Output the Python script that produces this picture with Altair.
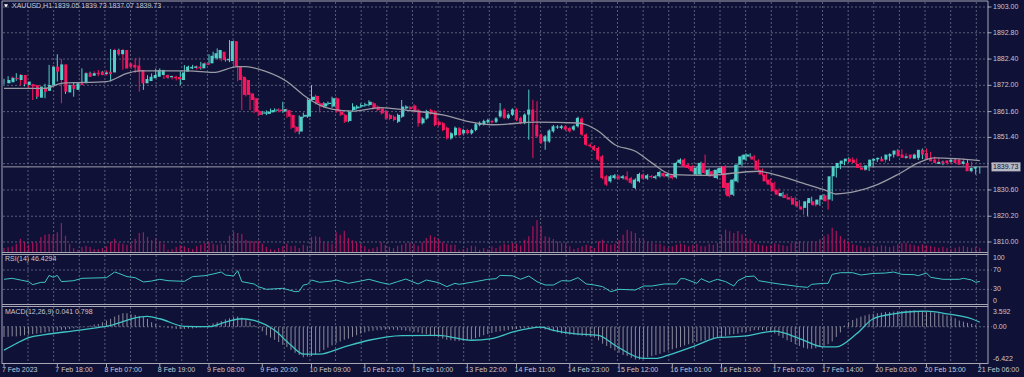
import altair as alt
import pandas as pd
import numpy as np

# ---------------- data ----------------
open_ = [1872.8,1873.2,1875.0,1874.1,1876.1,1872.1,1872.4,1872.1,1867.1,1870.8,
 1869.8,1872.1,1879.4,1874.1,1880.3,1869.2,1872.1,1870.2,1872.8,1872.8,
 1876.8,1875.8,1877.0,1877.4,1876.5,1877.4,1877.1,1886.0,1884.3,1886.0,
 1880.7,1880.1,1879.8,1878.1,1872.8,1873.7,1874.8,1875.4,1876.1,1876.1,
 1875.2,1875.4,1875.3,1874.1,1877.4,1878.7,1878.9,1879.4,1878.7,1880.7,
 1880.7,1882.7,1882.7,1885.3,1881.9,1881.6,1889.5,1879.4,1875.4,1874.1,
 1868.8,1866.9,1861.8,1860.8,1860.7,1861.3,1862.0,1862.4,1861.6,1862.2,
 1860.3,1855.6,1853.7,1859.6,1859.6,1866.2,1867.8,1864.9,1863.6,1864.6,
 1863.6,1866.9,1861.6,1860.3,1857.9,1862.2,1862.9,1863.6,1864.0,1864.2,
 1864.9,1863.6,1862.9,1861.8,1860.3,1859.6,1857.6,1859.6,1862.9,1863.4,
 1864.0,1862.2,1857.0,1858.9,1862.2,1861.6,1857.6,1857.0,1855.2,1851.0,
 1852.3,1855.0,1853.0,1854.3,1853.0,1854.3,1856.3,1856.6,1857.4,1857.9,
 1857.6,1859.7,1862.4,1859.1,1860.4,1862.4,1859.1,1857.1,1860.4,1862.4,
 1856.4,1852.5,1849.8,1849.8,1853.8,1855.3,1855.1,1855.8,1855.1,1854.5,
 1855.8,1858.8,1852.5,1848.5,1847.9,1847.2,1843.9,1836.0,1834.0,1835.3,
 1836.0,1835.3,1836.0,1835.3,1831.4,1834.0,1836.7,1835.1,1836.1,1835.3,
 1836.0,1837.3,1836.0,1836.4,1835.6,1841.3,1842.6,1840.6,1840.0,1836.7,
 1836.7,1841.3,1836.4,1838.0,1835.3,1837.3,1840.0,1833.4,1828.7,1834.0,
 1840.6,1842.6,1843.8,1843.9,1842.2,1838.6,1836.7,1834.7,1833.4,1830.7,
 1828.1,1828.7,1827.7,1827.4,1826.1,1824.1,1823.5,1825.4,1826.1,1824.8,
 1826.8,1828.5,1826.8,1836.0,1839.3,1840.9,1841.9,1843.0,1842.6,1840.9,
 1839.3,1838.6,1840.0,1842.2,1842.7,1842.9,1842.6,1843.9,1844.6,1846.2,
 1844.6,1843.3,1844.6,1843.0,1843.3,1846.5,1845.2,1843.3,1842.6,1840.9,
 1841.9,1842.2,1841.7,1842.6,1842.6,1840.9,1841.3,1838.0,1839.05]

high = [1874.6,1875.6,1875.5,1876.8,1876.5,1874.2,1873.0,1872.6,1872.0,1871.4,
 1872.6,1880.1,1880.0,1884.3,1882.4,1872.8,1872.6,1873.3,1873.3,1878.7,
 1877.3,1877.4,1877.6,1878.1,1877.7,1877.9,1886.4,1886.5,1886.5,1886.4,
 1881.3,1880.6,1882.7,1883.0,1875.0,1876.0,1876.7,1878.6,1878.7,1876.6,
 1876.2,1875.9,1875.8,1877.6,1880.0,1879.8,1880.1,1879.9,1881.3,1881.2,
 1884.3,1885.3,1886.6,1885.8,1883.0,1889.9,1890.0,1879.9,1876.0,1874.6,
 1869.3,1867.4,1862.4,1861.9,1862.1,1862.8,1862.9,1862.9,1865.5,1862.8,
 1860.8,1856.1,1860.1,1861.2,1866.8,1872.1,1868.3,1865.4,1865.4,1865.6,
 1867.5,1867.4,1862.1,1860.8,1862.1,1864.9,1864.2,1864.8,1865.1,1866.1,
 1865.4,1864.1,1863.4,1862.3,1860.8,1860.1,1860.8,1866.2,1864.1,1863.9,
 1864.5,1862.7,1859.4,1862.3,1862.7,1862.1,1858.1,1857.5,1855.7,1853.5,
 1855.7,1855.5,1854.8,1854.8,1854.8,1857.1,1857.7,1858.4,1858.8,1858.4,
 1859.4,1865.0,1862.9,1860.9,1862.9,1862.9,1859.6,1860.9,1870.3,1866.3,
 1865.7,1853.0,1852.3,1854.6,1856.3,1856.2,1856.3,1856.3,1855.6,1856.3,
 1859.6,1859.3,1853.0,1849.0,1848.4,1847.7,1844.4,1836.5,1836.5,1836.9,
 1836.5,1836.5,1838.0,1835.8,1835.2,1837.4,1837.2,1836.9,1836.6,1836.5,
 1838.2,1837.8,1837.4,1836.9,1841.8,1843.1,1843.1,1841.1,1840.5,1839.8,
 1841.8,1844.6,1839.1,1838.5,1839.1,1839.8,1840.5,1833.9,1835.2,1841.1,
 1844.4,1845.1,1845.1,1844.4,1842.7,1839.1,1837.2,1835.2,1833.9,1831.2,
 1829.9,1829.2,1828.2,1827.9,1826.6,1824.6,1826.6,1827.9,1826.6,1827.3,
 1829.0,1829.0,1836.5,1840.5,1841.8,1842.7,1843.5,1843.5,1843.1,1841.4,
 1839.8,1840.8,1843.1,1843.4,1843.8,1843.4,1845.1,1845.3,1846.7,1846.7,
 1845.1,1844.4,1845.1,1845.1,1847.0,1847.0,1845.7,1843.8,1843.1,1842.2,
 1842.4,1842.7,1843.1,1843.1,1843.1,1842.4,1841.8,1839.8,1839.73]

low = [1872.3,1872.9,1873.9,1873.8,1871.9,1871.6,1870.9,1866.2,1866.6,1869.0,
 1866.9,1871.5,1876.9,1873.5,1864.9,1868.6,1870.0,1867.5,1871.6,1872.3,
 1874.9,1875.3,1875.9,1875.6,1876.0,1875.9,1873.5,1883.8,1883.8,1878.2,
 1878.8,1878.5,1876.9,1869.5,1870.2,1873.2,1874.3,1875.0,1875.6,1874.5,
 1874.7,1874.3,1873.9,1872.1,1876.9,1878.2,1878.4,1878.2,1878.2,1879.6,
 1880.2,1882.2,1882.2,1881.5,1881.4,1881.2,1879.0,1873.6,1862.2,1867.6,
 1862.2,1861.0,1859.8,1860.3,1860.2,1860.8,1861.5,1861.3,1861.1,1859.1,
 1854.7,1853.2,1852.6,1859.1,1859.1,1865.7,1864.4,1861.3,1863.1,1864.1,
 1863.1,1861.1,1859.8,1857.1,1857.4,1861.7,1862.4,1863.1,1863.5,1863.7,
 1862.4,1861.7,1860.4,1858.4,1858.2,1857.8,1857.1,1859.1,1862.4,1862.1,
 1861.1,1855.6,1856.5,1858.4,1860.4,1855.8,1855.8,1853.8,1850.5,1850.5,
 1851.8,1851.8,1852.5,1852.5,1852.5,1853.8,1855.8,1856.1,1856.9,1856.9,
 1857.1,1859.2,1858.6,1858.6,1859.9,1857.9,1856.6,1856.6,1850.5,1843.3,
 1851.3,1848.7,1846.5,1849.3,1853.3,1854.8,1854.6,1854.0,1853.3,1854.0,
 1855.3,1852.0,1848.0,1847.4,1846.0,1842.1,1834.8,1832.2,1833.5,1834.8,
 1834.6,1834.8,1834.2,1832.9,1830.9,1833.5,1834.6,1834.6,1835.1,1834.8,
 1835.5,1835.5,1835.5,1834.8,1835.1,1840.8,1839.5,1838.8,1837.5,1836.2,
 1836.2,1836.8,1835.9,1835.5,1834.8,1836.8,1828.7,1827.6,1828.2,1833.5,
 1840.1,1842.1,1843.3,1842.1,1838.1,1836.2,1833.5,1832.2,1829.6,1828.2,
 1827.6,1826.9,1826.3,1824.3,1823.6,1820.8,1820.2,1824.9,1824.0,1824.3,
 1826.3,1822.8,1826.3,1835.5,1838.8,1840.4,1841.4,1841.2,1840.8,1838.8,
 1838.1,1838.1,1839.5,1841.7,1842.2,1841.4,1842.1,1843.4,1844.1,1843.4,
 1842.8,1842.8,1842.8,1842.5,1842.8,1844.1,1842.1,1841.4,1840.8,1840.4,
 1840.6,1840.8,1841.2,1840.8,1840.1,1840.4,1837.5,1836.7,1837.07]

close = [1874.1,1875.0,1874.4,1876.1,1872.4,1873.5,1871.5,1867.5,1871.5,1869.5,
 1872.1,1879.4,1877.4,1880.3,1869.5,1872.1,1870.6,1872.8,1872.1,1876.8,
 1875.4,1876.8,1876.4,1876.1,1877.1,1876.4,1886.0,1884.3,1886.0,1878.7,
 1879.4,1879.0,1877.4,1872.8,1874.5,1875.4,1876.1,1878.1,1878.1,1875.0,
 1875.7,1874.8,1874.4,1877.1,1879.4,1879.3,1879.5,1878.7,1880.7,1880.1,
 1883.7,1884.7,1886.0,1882.0,1882.4,1889.5,1879.4,1874.1,1868.2,1868.2,
 1866.2,1861.6,1860.3,1861.3,1861.6,1862.2,1862.4,1861.8,1862.6,1859.6,
 1855.2,1853.7,1859.6,1860.3,1866.2,1867.5,1864.9,1863.6,1864.9,1865.1,
 1866.9,1861.6,1860.3,1857.6,1861.6,1863.6,1863.6,1864.2,1864.5,1865.5,
 1862.9,1862.2,1860.9,1858.9,1858.7,1858.3,1860.3,1863.6,1863.6,1862.6,
 1861.6,1857.0,1858.9,1861.8,1860.9,1856.3,1856.3,1854.3,1851.0,1853.0,
 1855.2,1852.3,1854.3,1853.0,1854.3,1856.6,1857.2,1857.9,1858.3,1857.4,
 1858.9,1862.0,1859.1,1860.4,1862.4,1858.4,1857.1,1860.4,1862.4,1857.8,
 1851.8,1849.2,1851.8,1854.1,1855.8,1855.7,1855.8,1854.5,1853.8,1855.8,
 1859.1,1852.5,1848.5,1847.9,1846.5,1842.6,1835.3,1832.7,1836.0,1836.4,
 1835.1,1836.0,1834.7,1833.4,1834.7,1836.9,1835.1,1836.4,1835.6,1836.0,
 1837.7,1836.0,1836.9,1835.3,1841.3,1842.6,1840.0,1839.3,1838.0,1839.3,
 1841.3,1837.3,1838.6,1836.0,1838.6,1839.3,1831.4,1828.1,1834.7,1840.6,
 1843.9,1844.6,1844.6,1842.6,1838.6,1836.7,1834.0,1832.7,1830.1,1828.7,
 1829.4,1827.4,1826.8,1824.8,1824.1,1822.8,1826.1,1827.4,1824.5,1826.8,
 1828.5,1826.1,1836.0,1840.0,1841.3,1842.2,1843.0,1841.7,1841.3,1839.3,
 1838.6,1840.3,1842.6,1842.9,1843.3,1841.9,1844.6,1844.8,1846.2,1843.9,
 1843.3,1843.9,1843.3,1844.6,1846.5,1844.6,1842.6,1841.9,1841.3,1841.7,
 1841.1,1841.3,1842.6,1841.3,1840.6,1841.9,1838.0,1839.3,1839.73]

volume = [1200,1400,1700,2500,4000,3000,2200,3000,2700,4500,5200,5400,5000,5900,8700,
 4900,2500,1200,700,1500,1900,1500,900,900,1200,1700,3000,4000,2700,2500,
 2200,2500,4000,5700,5900,4500,3500,4200,3000,2500,700,900,1500,2000,1700,
 1200,900,1700,2200,2700,3000,2500,2200,2500,2200,4900,6000,5700,
 5400,3700,3400,3200,3400,2500,1500,900,700,1200,1700,2500,1700,1900,1200,
 2200,1900,4500,4700,4500,2900,2700,2500,5900,5200,6400,4200,3500,2900,2500,
 1700,900,1200,1500,2900,2200,1500,1200,1900,2200,2700,2900,2500,1900,2900,
 4200,5000,4500,3900,2900,2500,2200,2200,700,900,1200,1900,1700,700,1200,
 900,1700,1200,
 1900,2500,2200,2700,2500,1900,3700,4700,7700,9500,7900,4700,4400,3900,3200,
 2700,2500,1700,900,1200,1700,2200,1900,1200,3200,3700,2500,2200,2500,3500,
 5200,6700,6200,5700,4200,3700,2900,2700,2500,2500,1900,1200,1700,2200,2500,
 2200,1700,2200,2500,1900,1700,2500,2200,2700,5200,6700,6200,5700,
 6300,5300,4300,3800,2800,2300,2000,1800,2000,2600,2300,2000,1800,2600,3000,
 3300,3000,2800,3300,3000,3800,4800,5300,7300,6300,4800,3800,3000,2300,2000,
 1800,1300,1600,2000,1600,2000,1800,1500,1800,2300,2600,2800,2300,2000,1800,
 2300,2000,1800,1500,1300,1600,1300,1000,1300,1600,1800,1500,1300,1600,1300]

macd_hist = [-1.8,-1.8,-1.7,-1.7,-1.6,-1.5,-1.4,-1.3,-1.2,-1.1,-1.0,
 -0.9,-0.8,-0.7,-0.6,-0.5,-0.4,-0.3,-0.2,-0.1,0.0,
 0.2,0.4,0.5,0.8,1.1,1.4,1.8,2.1,2.4,2.4,
 2.2,2.1,1.9,1.7,1.4,0.8,0.5,0.2,0.0,-0.2,
 -0.3,-0.4,-0.4,-0.4,-0.3,-0.3,-0.2,-0.1,0.0,0.3,
 0.6,0.8,1.0,1.3,1.5,1.7,1.8,1.6,1.2,0.9,
 0.3,-0.2,-0.8,-1.5,-1.9,-2.3,-2.7,-3.2,-3.6,-4.1,
 -4.6,-5.0,-5.4,-5.3,-5.2,-4.9,-4.5,-4.1,-3.7,-3.3,
 -2.9,-2.6,-2.3,-2.1,-1.8,-1.5,-1.2,-1.0,-0.8,-0.7,
 -0.6,-0.6,-0.5,-0.5,-0.5,-0.6,-0.6,-0.7,-0.8,-0.9,
 -1.0,-1.2,-1.3,-1.5,-1.7,-1.9,-2.1,-2.3,-2.4,-2.5,
 -2.5,-2.5,-2.4,-2.2,-2.0,-1.8,-1.5,-1.3,-1.1,-0.9,
 -0.8,-0.7,-0.6,-0.5,-0.4,-0.3,-0.2,-0.2,-0.2,-0.2,
 -0.3,-0.5,-0.6,-0.8,-1.0,-1.2,-1.3,-1.4,-1.4,-1.5,
 -1.6,-1.7,-1.8,-1.9,-2.4,-3.0,-3.4,-3.8,-4.2,-4.6,
 -5.0,-5.2,-5.5,-5.8,-5.8,-5.6,-5.4,-5.2,-5.0,-4.8,
 -4.5,-4.2,-4.0,-3.8,-3.6,-3.3,-3.1,-2.9,-2.7,-2.5,
 -2.4,-2.2,-2.0,-1.9,-1.8,-1.6,-1.4,-1.3,-1.2,-1.0,
 -0.9,-0.8,-0.6,-0.6,-0.6,-0.7,-0.9,-1.2,-1.6,-2.0,
 -2.4,-2.7,-3.1,-3.4,-3.7,-3.9,-3.9,-3.8,-3.6,-3.4,
 -3.1,-2.6,-1.8,-1.0,0.2,0.8,1.2,1.5,1.8,2.0,
 2.2,2.3,2.4,2.5,2.6,2.6,2.7,2.8,2.8,2.9,
 2.9,2.9,2.8,2.8,2.7,2.6,2.5,2.4,2.2,2.0,
 1.8,1.5,1.1,0.9,0.7,0.5,0.3,0.04]

ma_bar = [0, 10, 14, 25, 30, 33, 45, 51, 57, 59, 64, 69, 73, 77, 80, 85, 92, 98, 107, 114,
          119, 130, 140, 142, 145, 149, 154, 158, 163, 171, 184, 188, 196, 200, 203, 208,
          213, 218, 223, 227, 232, 238]
ma_val = [1870.8, 1870.8, 1872.8, 1873.5, 1876.7, 1877.7, 1877.7, 1877.1, 1879.4, 1879.4,
          1877.4, 1873.5, 1868.2, 1864.2, 1862.6, 1861.8, 1863.2, 1862.2, 1860.3, 1857.4,
          1856.4, 1857.4, 1857.1, 1856.4, 1853.8, 1848.5, 1845.9, 1841.3, 1836.7, 1836.4,
          1838.0, 1836.7, 1832.7, 1830.7, 1829.0, 1830.1, 1832.7, 1836.7, 1841.3, 1843.3,
          1843.0, 1842.2]

rsi_bar = [0, 2, 4, 6, 7, 9, 10, 11, 12, 13, 14, 17, 19, 25, 27, 28, 30, 32, 34, 36, 38, 40,
           44, 46, 49, 51, 53, 54, 56, 57, 58, 61, 62, 64, 68, 71, 72, 73, 74, 75, 77, 80, 81,
           84, 87, 89, 92, 94, 96, 98, 101, 103, 106, 108, 110, 111, 115, 118, 120, 121, 124,
           126, 128, 130, 132, 134, 136, 138, 140, 142, 144, 146, 148, 150, 154, 156, 158,
           161, 164, 165, 166, 169, 170, 172, 173, 174, 176, 178, 179, 181, 183, 184, 187,
           189, 191, 194, 196, 197, 200, 201, 202, 204, 207, 209, 212, 215, 217, 219, 222,
           223, 225, 226, 229, 233, 234, 236, 237, 238]
rsi_val = [50.8, 52.8, 49.4, 46.0, 39.8, 44.6, 44.6, 58.9, 54.9, 58.9, 46.0, 48.0, 52.8, 54.2,
           65.8, 62.9, 56.3, 54.2, 45.3, 47.3, 50.8, 48.0, 46.6, 56.3, 58.3, 61.7, 65.8, 59.7,
           57.6, 68.6, 46.0, 41.2, 35.7, 30.2, 32.3, 25.4, 26.1, 39.1, 40.5, 49.4, 44.6, 47.3,
           49.4, 42.5, 47.3, 50.8, 43.9, 40.5, 46.0, 51.4, 41.2, 49.4, 43.9, 35.7, 42.5, 40.5,
           46.0, 50.8, 52.1, 58.9, 58.0, 50.8, 57.6, 46.0, 39.1, 39.1, 48.0, 47.3, 54.2, 41.2,
           39.1, 35.7, 25.4, 30.2, 28.8, 37.0, 37.0, 41.2, 41.2, 52.1, 52.1, 42.5, 52.1, 44.6,
           48.0, 50.8, 46.0, 37.0, 48.0, 56.3, 57.6, 48.0, 43.9, 41.2, 39.1, 35.7, 34.3, 40.5,
           42.5, 42.5, 61.0, 64.4, 64.4, 59.7, 62.9, 63.7, 65.8, 61.0, 60.3, 58.3, 63.7, 54.9,
           50.8, 50.8, 52.8, 49.4, 44.6, 46.4]

signal_bar = [0, 3, 6, 10, 18, 26, 33, 35, 38, 44, 50, 54, 58, 61, 66, 70, 73, 77, 83, 89, 97,
              106, 114, 119, 124, 131, 134, 139, 145, 149, 156, 159, 162, 169, 174, 181, 188,
              194, 200, 203, 208, 212, 217, 222, 225, 230, 236, 238]
signal_val = [-4.15, -2.97, -1.92, -1.39, -0.63, 0.25, 1.71, 1.83, 1.42, 0.07, 0.02, 0.83, 1.42,
              1.12, -0.63, -3.27, -4.85, -4.85, -3.57, -2.39, -1.57, -1.51, -2.39, -2.09, -0.95,
              -0.05, -0.63, -1.21, -1.51, -3.27, -5.61, -5.61, -5.03, -3.27, -1.92, -1.63, -0.76,
              -2.09, -3.57, -3.57, -1.21, 1.42, 2.30, 2.71, 2.76, 2.30, 1.42, 0.80]

price_ticks = [1903.00, 1892.80, 1882.40, 1872.00, 1861.60, 1851.40, 1841.00, 1830.60, 1820.20, 1810.00]
rsi_levels = [70, 30]
rsi_ticks = ["100", "70", "30", "0"]
macd_ticks = ["3.592", "0.00", "-6.422"]
time_labels = ["7 Feb 2023", "7 Feb 18:00", "8 Feb 07:00", "8 Feb 19:00", "9 Feb 08:00",
               "9 Feb 20:00", "10 Feb 09:00", "10 Feb 21:00", "13 Feb 10:00", "13 Feb 22:00",
               "14 Feb 11:00", "14 Feb 23:00", "15 Feb 12:00", "16 Feb 01:00", "16 Feb 13:00",
               "17 Feb 02:00", "17 Feb 14:00", "20 Feb 03:00", "20 Feb 15:00", "21 Feb 06:00"]
label_bar = [0, 13, 25, 38, 50, 63, 75, 88, 100, 113, 125, 138, 150, 163, 175, 188, 200, 213, 225, 238]
header = "XAUUSD,H1  1839.05 1839.73 1837.07 1839.73"
rsi_title = "RSI(14) 46.4294"
macd_title = "MACD(12,26,9) 0.041 0.798"
last_price = 1839.73

N = len(close)
assert all(len(a) == N for a in [open_, high, low, volume, macd_hist]), [len(a) for a in [open_, high, low, close, volume, macd_hist]]
assert len(ma_bar) == len(ma_val) and len(rsi_bar) == len(rsi_val) and len(signal_bar) == len(signal_val)

cd = pd.DataFrame({"bar": range(N), "open": open_, "high": high, "low": low, "close": close,
                   "volume": volume, "hist": macd_hist})
cd["dir"] = np.where(cd["close"] >= cd["open"], "up", "down")

# ---------------- style ----------------
BG = "#0f1136"
UP = "#52d1c9"
DOWN = "#f6175f"
VOL = "#a8145c"
GRID = "#5b5e7a"
FRAME = "#a6a6b4"
TEXT = "#c8c8d2"
CYAN = "#3fc4c6"
FONT = "Liberation Sans"
FS = 7

xs = alt.Scale(domain=[-4 / 4.1, 1020 / 4.1], range=[0, 1024], nice=False, zero=False)
py = alt.Scale(domain=[1806.04, 1904.98], range=[252, 2], nice=False, zero=False)
vs = alt.Scale(domain=[0, 30000], range=[252, 152], nice=False, zero=False)
rs = alt.Scale(domain=[0, 100], range=[304, 255.4], nice=False, zero=False)
ms = alt.Scale(domain=[-6.422, 3.592], range=[363, 306.5], nice=False, zero=False)
dir_color = alt.Color("dir:N", scale=alt.Scale(domain=["up", "down"], range=[UP, DOWN]), legend=None)


def X(field="bar"):
    return alt.X(f"{field}:Q", scale=xs, axis=None)


def P(field, scale):
    return alt.Y(f"{field}:Q", scale=scale, axis=None)


layers = []

# grid (vertical) in all three panes
vx = [28 + 25.63 * k for k in range(38)]
gv = pd.DataFrame([{"px": x, "y0": a, "y1": b} for x in vx for (a, b) in [(2, 252), (255, 304), (307, 363)]])
layers.append(alt.Chart(gv).mark_rule(color=GRID, strokeDash=[2, 2], strokeWidth=1).encode(
    x=alt.X("px:Q", scale=None), y=alt.Y("y0:Q", scale=None), y2="y1:Q"))

# horizontal grid
pt = pd.DataFrame({"p": price_ticks})
layers.append(alt.Chart(pt).mark_rule(color=GRID, strokeDash=[2, 2], strokeWidth=1).encode(
    y=P("p", py), x=alt.value(3), x2=alt.value(992)))
rl = pd.DataFrame({"r": rsi_levels})
layers.append(alt.Chart(rl).mark_rule(color=GRID, strokeDash=[2, 2], strokeWidth=1).encode(
    y=P("r", rs), x=alt.value(3), x2=alt.value(992)))
ml = pd.DataFrame({"m": [0.0]})
layers.append(alt.Chart(ml).mark_rule(color=GRID, strokeDash=[2, 2], strokeWidth=1).encode(
    y=P("m", ms), x=alt.value(3), x2=alt.value(992)))

# volume
layers.append(alt.Chart(cd).mark_rule(color=VOL, strokeWidth=1.2).encode(
    x=X(), y=P("volume", vs), y2=alt.datum(0)))

# current price line
lp = pd.DataFrame({"p": [last_price]})
layers.append(alt.Chart(lp).mark_rule(color="#9c9ca8", strokeWidth=1).encode(
    y=P("p", py), x=alt.value(3), x2=alt.value(988)))

# candles
layers.append(alt.Chart(cd).mark_rule(strokeWidth=1).encode(
    x=X(), y=P("low", py), y2="high:Q", color=dir_color))
layers.append(alt.Chart(cd).mark_bar(size=3).encode(
    x=X(), y=P("open", py), y2="close:Q", color=dir_color))

# moving average
mad = pd.DataFrame({"bar": ma_bar, "v": ma_val})
layers.append(alt.Chart(mad).mark_line(color="#9a9aa5", strokeWidth=1.3, interpolate="monotone").encode(
    x=X(), y=P("v", py)))

# RSI
rsd = pd.DataFrame({"bar": rsi_bar, "v": rsi_val})
layers.append(alt.Chart(rsd).mark_line(color=CYAN, strokeWidth=1).encode(x=X(), y=P("v", rs)))

# MACD histogram + signal
layers.append(alt.Chart(cd).mark_rule(color="#8a8a9c", strokeWidth=1).encode(
    x=X(), y=P("hist", ms), y2=alt.datum(0)))
sgd = pd.DataFrame({"bar": signal_bar, "v": signal_val})
layers.append(alt.Chart(sgd).mark_line(color=CYAN, strokeWidth=1.3, interpolate="monotone").encode(
    x=X(), y=P("v", ms)))

# frames
fr = pd.DataFrame([
    {"x0": 2, "x1": 988, "y0": 1, "y1": 1},
    {"x0": 2, "x1": 2, "y0": 1, "y1": 364},
    {"x0": 988, "x1": 988, "y0": 1, "y1": 364},
    {"x0": 2, "x1": 988, "y0": 252.5, "y1": 252.5},
    {"x0": 2, "x1": 988, "y0": 254.5, "y1": 254.5},
    {"x0": 2, "x1": 988, "y0": 304.5, "y1": 304.5},
    {"x0": 2, "x1": 988, "y0": 306.5, "y1": 306.5},
    {"x0": 2, "x1": 988, "y0": 363.5, "y1": 363.5},
])
layers.append(alt.Chart(fr).mark_rule(color=FRAME, strokeWidth=1).encode(
    x=alt.X("x0:Q", scale=None), x2="x1:Q", y=alt.Y("y0:Q", scale=None), y2="y1:Q"))

txt = dict(font=FONT, fontSize=FS, color=TEXT, baseline="middle")

# price axis
pl = pd.DataFrame({"p": price_ticks})
pl["t"] = pl["p"].map(lambda v: f"{v:.2f}")
pl = pl[(pl["p"] - last_price).abs() > 2]
layers.append(alt.Chart(pl).mark_rule(color=FRAME).encode(y=P("p", py), x=alt.value(988), x2=alt.value(991)))
layers.append(alt.Chart(pl).mark_text(align="left", **txt).encode(y=P("p", py), x=alt.value(993), text="t:N"))

# current price box
layers.append(alt.Chart(lp).mark_tick(orient="horizontal", size=29, thickness=9, color="#ffffff").encode(
    y=P("p", py), x=alt.value(1006)))
lp2 = lp.assign(t=lp["p"].map(lambda v: f"{v:.2f}"))
layers.append(alt.Chart(lp2).mark_text(align="left", font=FONT, fontSize=FS, color="#101030", baseline="middle").encode(
    y=P("p", py), x=alt.value(993), text="t:N"))

# RSI axis
rt = pd.DataFrame({"v": [float(s) for s in rsi_ticks], "t": rsi_ticks})
layers.append(alt.Chart(rt[rt.v == 100]).mark_text(align="left", dy=3, **txt).encode(y=P("v", rs), x=alt.value(993), text="t:N"))
layers.append(alt.Chart(rt[(rt.v > 0) & (rt.v < 100)]).mark_text(align="left", **txt).encode(y=P("v", rs), x=alt.value(993), text="t:N"))
layers.append(alt.Chart(rt[rt.v == 0]).mark_text(align="left", dy=-3, **txt).encode(y=P("v", rs), x=alt.value(993), text="t:N"))

# MACD axis
mt = pd.DataFrame({"v": [float(s) for s in macd_ticks], "t": macd_ticks})
layers.append(alt.Chart(mt.iloc[[0]]).mark_text(align="left", dy=5, **txt).encode(y=P("v", ms), x=alt.value(993), text="t:N"))
layers.append(alt.Chart(mt.iloc[[1]]).mark_text(align="left", **txt).encode(y=P("v", ms), x=alt.value(993), text="t:N"))
layers.append(alt.Chart(mt.iloc[[2]]).mark_text(align="left", dy=-4, **txt).encode(y=P("v", ms), x=alt.value(993), text="t:N"))

# time axis
tl = pd.DataFrame({"bar": label_bar, "t": time_labels})
layers.append(alt.Chart(tl).mark_rule(color=FRAME).encode(x=X(), y=alt.value(364), y2=alt.value(367)))
layers.append(alt.Chart(tl).mark_text(align="left", dx=-2, **txt).encode(x=X(), y=alt.value(370), text="t:N"))

# titles
hd = pd.DataFrame({"t": [header]})
layers.append(alt.Chart(hd).mark_point(shape="triangle-down", filled=True, size=16, color="#ffffff", opacity=1).encode(
    x=alt.value(6), y=alt.value(6)))
layers.append(alt.Chart(hd).mark_text(align="left", **txt).encode(x=alt.value(12), y=alt.value(6), text="t:N"))
layers.append(alt.Chart(pd.DataFrame({"t": [rsi_title]})).mark_text(align="left", **txt).encode(
    x=alt.value(5), y=alt.value(259), text="t:N"))
layers.append(alt.Chart(pd.DataFrame({"t": [macd_title]})).mark_text(align="left", **txt).encode(
    x=alt.value(5), y=alt.value(312), text="t:N"))

chart = alt.layer(*layers).resolve_scale(x="independent", y="independent", color="independent").properties(
    width=1024, height=377, padding=0, autosize="none", background=BG
).configure_view(stroke=None)

chart.save("out.html", embed_options={"renderer": "svg", "actions": False})
